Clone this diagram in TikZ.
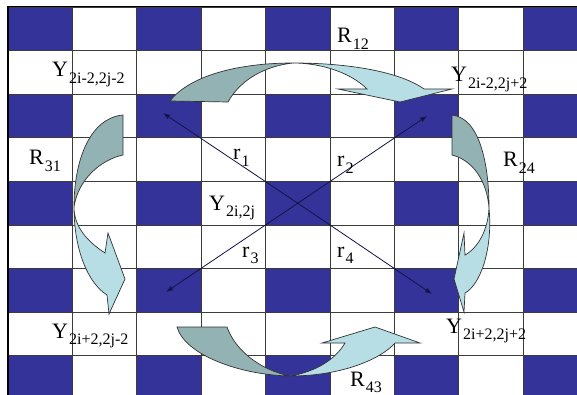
\documentclass[tikz,border=0pt]{standalone}
\usepackage{fontspec}
\setmainfont{Liberation Serif}
\usetikzlibrary{arrows.meta}
\definecolor{navy}{RGB}{51,51,153}
\definecolor{gridc}{RGB}{60,60,60}
\definecolor{arrdark}{RGB}{146,178,180}
\definecolor{arrlight}{RGB}{182,222,228}
\definecolor{linec}{RGB}{20,20,70}
\newcommand\lab[2]{#1\kern1pt\raisebox{-6.5pt}{\fontsize{16}{16}\selectfont #2}}
\begin{document}
\begin{tikzpicture}[x=1pt,y=-1pt,
  gridline/.style={draw=gridc, line width=0.9pt},
  horndark/.style={fill=arrdark, draw=black!80, line width=0.7pt, line join=miter},
  hornlight/.style={fill=arrlight, draw=black!80, line width=0.7pt, line join=miter},
  ray/.style={draw=linec, line width=0.8pt, -{Latex[length=7pt,width=5pt]}},
  lbl/.style={inner sep=0pt, anchor=base west, font=\fontsize{22}{24}\selectfont}]
\useasboundingbox (0,0) rectangle (577,395);
\fill[white] (0,0) rectangle (577,395);
\begin{scope}
\clip (0,0) rectangle (577,395);
\foreach \i in {0,2,4,6,8} \foreach \j in {0,2,4,6,8}
  \fill[navy] ({8+64.4*\j},{7+43.6*\i}) rectangle +(64.4,43.6);
\foreach \k in {0,...,8} \draw[gridline] ({8+64.4*\k},7) -- ({8+64.4*\k},400);
\foreach \k in {0,...,8} \draw[gridline] (8,{7+43.6*\k}) -- (580,{7+43.6*\k});
\draw[black, line width=2pt] (8,6) -- (8,400);
\draw[black, line width=1pt] (7,7) -- (580,7);
\end{scope}
% top curved arrow R12
\draw[horndark] (170,101) .. controls (190,75) and (240,63) .. (293,63) .. controls (265,66) and (240,80) .. (228,102) -- cycle;
\draw[hornlight] (293,63) .. controls (350,63) and (400,72) .. (424,89) -- (452,89) -- (400,102) -- (338,89) -- (367,89) .. controls (350,72) and (320,63) .. (293,63) -- cycle;
% left curved arrow R31
\draw[horndark] (123,115) .. controls (90,118) and (74,160) .. (74,207) .. controls (78,180) and (100,160) .. (123,155) -- cycle;
\draw[hornlight] (74,207) .. controls (74,250) and (88,283) .. (107,295) -- (109,314) -- (125,279) -- (108,233) -- (105,253) .. controls (85,240) and (74,225) .. (74,207) -- cycle;
% right curved arrow R24
\draw[horndark] (452,115) .. controls (480,118) and (489,165) .. (489,208) .. controls (487,180) and (472,160) .. (452,155) -- cycle;
\draw[hornlight] (489,208) .. controls (493,250) and (480,285) .. (465,293) -- (464,312) -- (454,279) -- (464,233) -- (465,255) .. controls (478,248) and (488,230) .. (489,208) -- cycle;
% bottom curved arrow R43
\draw[horndark] (177,327) .. controls (185,355) and (240,375) .. (290,376) .. controls (260,370) and (235,350) .. (227,327) -- cycle;
\draw[hornlight] (290,376) .. controls (340,376) and (380,360) .. (395,343) -- (420,343) -- (375,327) -- (322,343) -- (345,343) .. controls (335,360) and (315,372) .. (290,376) -- cycle;
% rays
\coordinate (C) at (297.8,203.2);
\coordinate (UL) at (163,113);
\coordinate (UR) at (427,116);
\coordinate (LL) at (166,292);
\coordinate (LR) at (432,294);
\draw[ray] (C) -- (UL);
\draw[ray] (C) -- (UR);
\draw[ray] (C) -- (LL);
\draw[ray] (C) -- (LR);
% labels
\node[lbl] (R12) at (337,43) {\lab{R}{12}};
\node[lbl] (Yul) at (52,77) {\lab{Y}{2i-2,2j-2}};
\node[lbl] (Yur) at (451,82) {\lab{Y}{2i-2,2j+2}};
\node[lbl] (R31) at (29,165) {\lab{R}{31}};
\node[lbl] (R24) at (503,167) {\lab{R}{24}};
\node[lbl] (Yc) at (209,210) {\lab{Y}{2i,2j}};
\node[lbl] (r1) at (233,160) {\lab{r}{1}};
\node[lbl] (r2) at (337,167) {\lab{r}{2}};
\node[lbl] (r3) at (242,257) {\lab{r}{3}};
\node[lbl] (r4) at (337,257) {\lab{r}{4}};
\node[lbl] (Yll) at (52,338) {\lab{Y}{2i+2,2j-2}};
\node[lbl] (Ylr) at (446,333) {\lab{Y}{2i+2,2j+2}};
\node[lbl] (R43) at (350,386) {\lab{R}{43}};
\end{tikzpicture}
\end{document}
